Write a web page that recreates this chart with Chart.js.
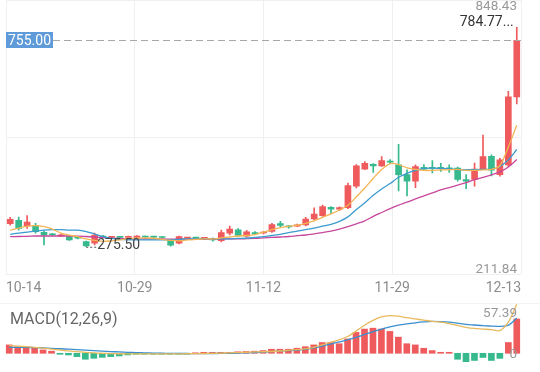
<!DOCTYPE html>
<html>
<head>
<meta charset="utf-8">
<script src="https://cdn.jsdelivr.net/npm/chart.js@4.4.0/dist/chart.umd.min.js"></script>
<style>
  html, body { margin: 0; padding: 0; background: #fff; }
  #wrap { position: relative; width: 540px; height: 372px; overflow: hidden; font-family: Roboto, "Noto Sans", sans-serif; }
  #priceChart { position: absolute; left: 0; top: 0; }
  #macdChart { position: absolute; left: 0; top: 303px; }
  #sep { position: absolute; left: 0; top: 303px; width: 540px; height: 1px; background: #f3f3f3; }
  #macdTitle { position: absolute; left: 10px; top: 309px; font-size: 16px; line-height: normal; color: #666; }
</style>
</head>
<body>
<div id="wrap">
  <canvas id="priceChart" width="540" height="303"></canvas>
  <div id="sep"></div>
  <canvas id="macdChart" width="540" height="69"></canvas>
  <div id="macdTitle">MACD(12,26,9)</div>
</div>
<script>
// Tick labels under the price panel
const tickLabels = ['10-14', '10-29', '11-12', '11-29', '12-13'];

// Daily candles (61 days)
const openPrices = [329.4, 336.9, 323.9, 325.5, 308.9, 304.5, 301.0, 298.9, 296.5, 287.6,
  283.9, 300.5, 297.5, 298.0, 297.5, 297.1, 299.0, 298.5, 297.5, 291.4,
  284.0, 295.5, 296.0, 295.3, 294.5, 289.6, 307.3, 315.0, 300.0, 308.5,
  307.5, 311.2, 329.4, 322.5, 323.5, 326.2, 339.9, 347.6, 367.1, 363.0,
  366.5, 416.5, 455.8, 467.2, 463.5, 474.4, 465.8, 443.1, 427.8, 459.7,
  459.0, 458.5, 458.0, 458.1, 431.7, 431.7, 454.4, 485.5, 443.1, 465.8, 623.4];
const closePrices = [339.2, 318.0, 333.0, 310.3, 302.8, 303.3, 303.0, 291.4, 295.5, 277.5,
  302.8, 297.5, 298.5, 297.5, 299.0, 300.5, 298.2, 298.0, 297.0, 279.0,
  299.0, 296.0, 295.5, 296.0, 291.5, 308.5, 316.4, 302.1, 310.0, 305.5,
  308.9, 327.1, 324.8, 321.7, 326.2, 339.9, 351.2, 368.7, 362.6, 366.5,
  417.6, 463.5, 469.4, 463.5, 475.6, 472.2, 443.1, 427.8, 461.9, 455.8,
  457.4, 457.5, 456.7, 431.7, 427.8, 456.0, 484.7, 453.5, 477.2, 623.4, 755.00];
const highPrices = [343.7, 344.4, 348.0, 330.1, 311.9, 306.5, 304.5, 300.5, 298.0, 288.5,
  307.3, 302.0, 300.0, 299.5, 300.5, 301.5, 300.5, 300.0, 299.0, 292.5,
  300.5, 297.5, 297.0, 297.5, 296.0, 314.0, 323.3, 318.0, 313.5, 311.0,
  311.0, 330.0, 334.6, 324.5, 328.0, 343.7, 365.8, 372.1, 369.0, 368.0,
  423.3, 466.5, 473.3, 468.5, 484.7, 477.9, 513.6, 454.4, 465.8, 466.5,
  475.6, 469.4, 465.8, 460.3, 443.1, 470.0, 534.7, 489.2, 480.8, 636.2, 784.77];
const lowPrices = [325.5, 314.2, 318.0, 307.3, 280.0, 301.0, 299.5, 290.0, 294.0, 275.50,
  280.0, 296.0, 296.5, 296.0, 296.5, 296.0, 297.0, 296.5, 295.5, 277.0,
  282.0, 294.0, 294.5, 294.0, 288.5, 287.0, 303.0, 300.0, 297.5, 304.0,
  305.5, 309.0, 321.0, 318.5, 322.0, 324.0, 338.0, 346.0, 352.1, 359.6,
  364.0, 411.9, 455.1, 448.3, 461.9, 468.1, 405.1, 393.7, 412.6, 454.4,
  446.7, 450.6, 448.3, 427.8, 410.3, 416.5, 454.4, 440.0, 439.2, 462.0, 607.4];

// Moving average lines
const ma5 = [314.2, 318.7, 323.3, 324.4, 322.1, 316.4, 307.3, 302.8, 298.9, 293.7,
  290.3, 288.0, 289.2, 291.4, 294.8, 295.3, 296.0, 295.3, 292.6, 290.3,
  289.2, 291.4, 292.6, 293.7, 293.7, 296.0, 298.2, 300.5, 301.7, 303.9,
  309.6, 315.3, 319.8, 323.3, 325.5, 330.1, 335.8, 343.7, 351.7, 360.8,
  372.1, 391.5, 411.9, 434.7, 455.1, 468.8, 466.5, 458.5, 455.1, 452.8,
  452.8, 454.0, 454.4, 455.1, 452.8, 452.8, 454.0, 455.1, 464.2, 507.4, 557.4];
const ma10 = [304.4, 307.3, 309.6, 311.9, 314.2, 315.3, 315.3, 314.2, 314.2, 310.8,
  305.1, 298.9, 294.8, 292.6, 291.4, 291.4, 291.4, 291.4, 291.4, 291.4,
  292.6, 293.7, 293.7, 293.7, 293.7, 293.7, 293.7, 294.8, 295.3, 297.1,
  298.9, 301.7, 304.4, 308.5, 311.9, 315.3, 318.7, 323.3, 327.8, 334.6,
  344.9, 361.9, 377.8, 394.9, 409.6, 422.2, 436.9, 446.0, 452.8, 457.4,
  458.1, 457.4, 456.3, 454.4, 454.4, 454.4, 455.1, 455.8, 461.9, 477.2, 501.3];
const ma20 = [298.9, 299.4, 299.8, 300.5, 300.5, 300.5, 300.5, 300.5, 300.1, 299.4,
  298.2, 296.7, 295.3, 294.8, 294.2, 293.7, 293.7, 293.7, 293.7, 293.2,
  293.0, 293.0, 293.0, 293.0, 293.2, 293.7, 293.7, 293.7, 294.2, 294.8,
  296.0, 297.1, 298.2, 299.4, 301.2, 302.8, 305.5, 308.5, 311.9, 316.4,
  322.1, 328.9, 335.8, 346.0, 355.1, 364.2, 372.1, 379.0, 386.9, 393.7,
  400.6, 407.4, 413.1, 418.7, 424.4, 431.2, 436.9, 442.6, 449.4, 460.8, 477.9];

// MACD(12,26,9)
const macdDif = [13, 12, 11, 10, 8.5, 7, 5.5, 4, 2.8, 1.5,
  0.6, 0, -0.5, -0.8, -1, -1, -1, -1, -1, -1,
  -1, -0.8, -0.6, -0.4, -0.2, 0.2, 0.7, 1.2, 1.7, 2.2,
  2.6, 3, 3.8, 4.8, 6, 7.5, 10, 14, 18.5, 22.5,
  28, 37, 47, 55, 61, 63, 62, 59.5, 57.5, 55.5,
  53.5, 52, 49.5, 46.5, 43.5, 41.5, 40.5, 39.5, 38, 52, 82];
const macdDea = [10, 10, 9.8, 9.5, 9, 8.3, 7.6, 6.8, 6, 5.2,
  4.4, 3.6, 2.9, 2.2, 1.6, 1.1, 0.7, 0.4, 0.1, -0.1,
  -0.3, -0.4, -0.5, -0.5, -0.4, -0.3, -0.1, 0.3, 0.8, 1.3,
  2, 2.8, 3.5, 4.3, 5.2, 6.5, 9, 12, 15.5, 19,
  22.5, 26.5, 31.5, 36, 40.5, 44, 47, 49.2, 51, 52.5,
  53.5, 53, 52, 50.3, 48.5, 47.3, 46.1, 45.5, 45, 47, 59];
const macdHist = [14, 11, 11, 9.6, 5.6, 3.5, -1, -2.8, -5.6, -10,
  -8.4, -6.8, -5.6, -4.5, -2.8, -1.2, -0.8, -0.5, -0.4, -0.3,
  -0.3, -0.2, 0, 0.2, 0.4, 0.8, 1.5, 2.5, 3, 3.5,
  4.5, 6.8, 6.8, 6.8, 8.4, 11, 14, 18, 18, 16,
  24, 35, 40.5, 42, 40.5, 36.6, 27, 16, 14, 8.4,
  4.5, 1.7, 1, -10, -14, -12, -7, -12, -8.5, 18, 57.39];

const priceRange = [211.84, 848.43];

const UP = '#ef5a5c';
const DOWN = '#36b98c';
const FONT = 'Roboto, "Noto Sans", sans-serif';
const xMin = -0.5;
const xMax = closePrices.length - 0.5;

const candleColors = closePrices.map((c, i) => c >= openPrices[i] ? UP : DOWN);
const histColors = macdHist.map(v => v >= 0 ? UP : DOWN);
const pts = arr => arr.map((v, i) => ({ x: i, y: v }));

function maLine(label, data, color) {
  return {
    type: 'line', label, data: pts(data), borderColor: color, borderWidth: 1.3,
    pointRadius: 0, tension: 0.3, order: 0
  };
}

// price labels drawn on top of the candles
const priceMarks = {
  id: 'priceMarks',
  afterDatasetsDraw(chart) {
    const { ctx, chartArea: a, scales: { x, y } } = chart;
    const last = closePrices.length - 1;
    const lastY = y.getPixelForValue(closePrices[last]);
    ctx.save();

    ctx.strokeStyle = '#a8a8a8';
    ctx.lineWidth = 1;
    ctx.setLineDash([7, 4]);
    ctx.beginPath();
    ctx.moveTo(a.left + 47, Math.round(lastY) + 0.5);
    ctx.lineTo(a.right, Math.round(lastY) + 0.5);
    ctx.stroke();
    ctx.setLineDash([]);

    ctx.fillStyle = '#5f9bd8';
    ctx.fillRect(a.left, Math.round(lastY) - 8, 47, 16);
    ctx.font = '14px ' + FONT;
    ctx.fillStyle = '#fff';
    ctx.textAlign = 'left';
    ctx.textBaseline = 'middle';
    ctx.fillText(closePrices[last].toFixed(2), a.left + 2, lastY + 1);

    // highest high
    const hi = highPrices.indexOf(Math.max(...highPrices));
    ctx.fillStyle = '#333';
    ctx.textAlign = 'right';
    ctx.textBaseline = 'alphabetic';
    ctx.fillText(highPrices[hi].toFixed(2) + '...', x.getPixelForValue(hi) - 3, y.getPixelForValue(highPrices[hi]) - 1);

    // lowest low
    const lo = lowPrices.indexOf(Math.min(...lowPrices));
    const lx = x.getPixelForValue(lo);
    const ly = y.getPixelForValue(lowPrices[lo]);
    ctx.strokeStyle = '#555';
    ctx.setLineDash([2, 2]);
    ctx.beginPath();
    ctx.moveTo(lx, ly + 0.5);
    ctx.lineTo(lx + 10, ly + 0.5);
    ctx.stroke();
    ctx.setLineDash([]);
    ctx.fillStyle = '#444';
    ctx.textAlign = 'left';
    ctx.textBaseline = 'middle';
    ctx.fillText(lowPrices[lo].toFixed(2), lx + 11, ly - 1);

    // range of the price axis
    ctx.font = '13.5px ' + FONT;
    ctx.fillStyle = '#999';
    ctx.textAlign = 'right';
    ctx.fillText(priceRange[1].toFixed(2), a.right - 4, y.getPixelForValue(priceRange[1]) + 7);
    ctx.fillText(priceRange[0].toFixed(2), a.right - 4, y.getPixelForValue(priceRange[0]) - 5);
    ctx.restore();
  }
};

new Chart(document.getElementById('priceChart'), {
  type: 'bar',
  data: {
    datasets: [
      maLine('MA5', ma5, '#f3b554'),
      maLine('MA10', ma10, '#3c9bcf'),
      maLine('MA20', ma20, '#c8479c'),
      {
        label: 'wick',
        data: lowPrices.map((l, i) => ({ x: i, y: [l, highPrices[i]] })),
        backgroundColor: candleColors,
        barThickness: 1,
        minBarLength: 1,
        grouped: false,
        order: 2
      },
      {
        label: 'body',
        data: openPrices.map((o, i) => ({ x: i, y: [o, closePrices[i]] })),
        backgroundColor: candleColors,
        barThickness: 6,
        minBarLength: 1,
        grouped: false,
        order: 1
      }
    ]
  },
  options: {
    responsive: false,
    animation: false,
    events: [],
    layout: { padding: { left: 5, right: 19, top: 0, bottom: 0 } },
    plugins: { legend: { display: false }, tooltip: { enabled: false } },
    scales: {
      x: {
        type: 'linear',
        min: xMin,
        max: xMax,
        offset: false,
        border: { display: false },
        grid: { color: '#efefef', drawTicks: false, offset: false },
        afterBuildTicks: scale => {
          const step = (xMax - xMin) / (tickLabels.length - 1);
          scale.ticks = tickLabels.map((t, k) => ({ value: xMin + k * step }));
        },
        ticks: {
          align: 'inner',
          autoSkip: false,
          maxRotation: 0,
          padding: 6,
          color: '#8c8c8c',
          font: { family: FONT, size: 14 },
          callback: (v, idx) => tickLabels[idx]
        }
      },
      y: {
        type: 'linear',
        min: priceRange[0],
        max: priceRange[1],
        border: { display: false },
        grid: { color: '#f0f0f0', drawTicks: false },
        afterBuildTicks: scale => {
          scale.ticks = [priceRange[0], (priceRange[0] + priceRange[1]) / 2, priceRange[1]].map(v => ({ value: v }));
        },
        ticks: { display: false }
      }
    }
  },
  plugins: [priceMarks]
});

const macdMarks = {
  id: 'macdMarks',
  afterDatasetsDraw(chart) {
    const { ctx, chartArea: a, scales: { y } } = chart;
    ctx.save();
    ctx.font = '13.5px ' + FONT;
    ctx.fillStyle = '#999';
    ctx.textAlign = 'right';
    ctx.textBaseline = 'middle';
    ctx.fillText(Math.max(...macdHist).toFixed(2), a.right - 4, a.top + 11);
    ctx.fillText('0', a.right - 4, y.getPixelForValue(0) + 1);
    ctx.restore();
  }
};

new Chart(document.getElementById('macdChart'), {
  type: 'bar',
  data: {
    datasets: [
      {
        type: 'line', label: 'DIF', data: pts(macdDif), borderColor: '#e9b95e',
        borderWidth: 1.3, pointRadius: 0, tension: 0.3, order: 0
      },
      {
        type: 'line', label: 'DEA', data: pts(macdDea), borderColor: '#3b8fcf',
        borderWidth: 1.3, pointRadius: 0, tension: 0.3, order: 0
      },
      {
        label: 'MACD', data: pts(macdHist), backgroundColor: histColors,
        barThickness: 6, minBarLength: 1, grouped: false, order: 1
      }
    ]
  },
  options: {
    responsive: false,
    animation: false,
    events: [],
    layout: { padding: { left: 5, right: 19, top: 0, bottom: 0 } },
    plugins: { legend: { display: false }, tooltip: { enabled: false } },
    scales: {
      x: { type: 'linear', min: xMin, max: xMax, offset: false, display: false },
      y: { type: 'linear', min: -31.3, max: 84.1, display: false }
    }
  },
  plugins: [macdMarks]
});
</script>
</body>
</html>
